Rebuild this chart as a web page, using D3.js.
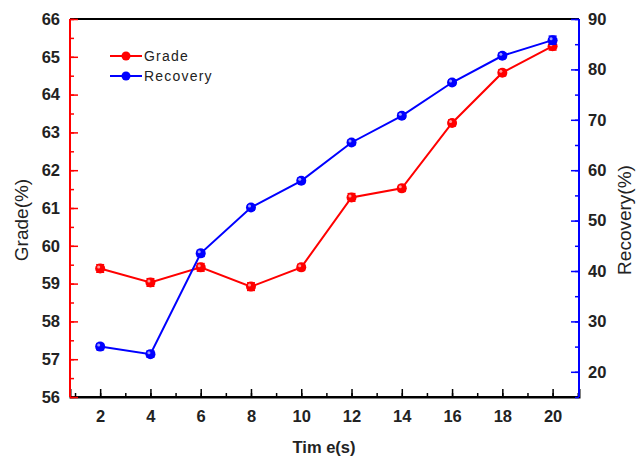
<!DOCTYPE html>
<html>
<head>
<meta charset="utf-8">
<script src="https://cdn.jsdelivr.net/npm/d3@7"></script>
<style>
  body { margin: 0; background: #fff; }
  text { font-family: "Liberation Sans", Arial, sans-serif; }
</style>
</head>
<body>
<script>
// data
var times = [2, 4, 6, 8, 10, 12, 14, 16, 18, 20];
var grade = [59.40, 59.03, 59.43, 58.92, 59.43, 61.28, 61.52, 63.25, 64.58, 65.28];
var gradeErr = [0.1, 0.1, 0.1, 0.1, 0.08, 0.1, 0.08, 0.08, 0.08, 0.1];
var recovery = [25.0, 23.5, 43.5, 52.6, 57.9, 65.5, 70.8, 77.4, 82.7, 85.8];
var recoveryErr = [0.6, 0.6, 0.6, 0.5, 0.5, 0.5, 0.5, 0.5, 0.5, 0.8];
var gradeTicks = [56, 57, 58, 59, 60, 61, 62, 63, 64, 65, 66];
var recoveryTicks = [20, 30, 40, 50, 60, 70, 80, 90];
var timeTicks = [2, 4, 6, 8, 10, 12, 14, 16, 18, 20];

var width = 636, height = 459;
var margin = {top: 19, right: 57, bottom: 62, left: 70};
var x0 = margin.left, x1 = width - margin.right;
var y0 = height - margin.bottom, y1 = margin.top;

var svg = d3.select("body").append("svg")
    .attr("width", width)
    .attr("height", height);

var x = d3.scaleLinear().domain([0.8, 21.05]).range([x0, x1]);
var yL = d3.scaleLinear().domain([56, 66]).range([y0, y1]);
var yR = d3.scaleLinear().domain([15, 90]).range([y0, y1]);

// top frame line
svg.append("line")
    .attr("x1", x0).attr("x2", x1)
    .attr("y1", y1).attr("y2", y1)
    .attr("stroke", "#000").attr("stroke-width", 2);

// bottom axis (ticks inward)
var minorX = d3.range(1, 22, 1);
var bottom = svg.append("g").attr("transform", "translate(0," + y0 + ")");
bottom.call(d3.axisBottom(x).tickValues(minorX).tickSize(-4).tickFormat(""));
bottom.append("g").call(d3.axisBottom(x).tickValues(timeTicks).tickSize(-8).tickPadding(13).tickFormat(d3.format("d")));
bottom.selectAll(".domain").attr("stroke", "#000").attr("stroke-width", 2);
bottom.selectAll(".tick line").attr("stroke", "#000").attr("stroke-width", 1.5);
bottom.selectAll("text").attr("font-size", 16.5).attr("font-weight", "bold").attr("fill", "#222");
bottom.select(".domain").attr("d", "M" + x0 + ",0H" + x1);

// left axis (red, ticks inward)
var left = svg.append("g").attr("transform", "translate(" + x0 + ",0)");
left.call(d3.axisLeft(yL).tickValues(d3.range(56, 66.01, 0.5)).tickSize(-4).tickFormat(""));
left.append("g").call(d3.axisLeft(yL).tickValues(gradeTicks).tickSize(-8).tickPadding(10).tickFormat(d3.format("d")));
left.selectAll(".domain").attr("stroke", "red").attr("stroke-width", 2).attr("d", "M0," + y0 + "V" + y1);
left.selectAll(".tick line").attr("stroke", "red").attr("stroke-width", 1.5);
left.selectAll("text").attr("font-size", 16.5).attr("font-weight", "bold").attr("fill", "#222");

// right axis (blue, ticks inward)
var right = svg.append("g").attr("transform", "translate(" + x1 + ",0)");
right.call(d3.axisRight(yR).tickValues(d3.range(15, 90.01, 5)).tickSize(-4).tickFormat(""));
right.append("g").call(d3.axisRight(yR).tickValues(recoveryTicks).tickSize(-8).tickPadding(9).tickFormat(d3.format("d")));
right.selectAll(".domain").attr("stroke", "blue").attr("stroke-width", 2).attr("d", "M0," + y0 + "V" + y1);
right.selectAll(".tick line").attr("stroke", "blue").attr("stroke-width", 1.5);
right.selectAll("text").attr("font-size", 16.5).attr("font-weight", "bold").attr("fill", "#222");

// axis titles
svg.append("text")
    .attr("transform", "translate(28,220) rotate(-90)")
    .attr("text-anchor", "middle")
    .attr("font-size", 19)
    .attr("fill", "#222")
    .text("Grade(%)");

svg.append("text")
    .attr("transform", "translate(631,220) rotate(-90)")
    .attr("text-anchor", "middle")
    .attr("font-size", 19)
    .attr("fill", "#222")
    .text("Recovery(%)");

svg.append("text")
    .attr("x", 324)
    .attr("y", 453)
    .attr("text-anchor", "middle")
    .attr("font-size", 16.5)
    .attr("font-weight", "bold")
    .attr("fill", "#222")
    .text("Tim e(s)");

// series
function drawSeries(vals, errs, yScale, color) {
    var pts = times.map(function (t, i) { return {t: t, v: vals[i], e: errs[i]}; });
    var line = d3.line()
        .x(function (d) { return x(d.t); })
        .y(function (d) { return yScale(d.v); });
    svg.append("path")
        .datum(pts)
        .attr("d", line)
        .attr("fill", "none")
        .attr("stroke", color)
        .attr("stroke-width", 2);
    var g = svg.append("g").selectAll("g").data(pts).enter().append("g");
    g.append("line")
        .attr("x1", function (d) { return x(d.t); })
        .attr("x2", function (d) { return x(d.t); })
        .attr("y1", function (d) { return yScale(d.v - d.e); })
        .attr("y2", function (d) { return yScale(d.v + d.e); })
        .attr("stroke", color).attr("stroke-width", 1.5);
    [1, -1].forEach(function (s) {
        g.append("line")
            .attr("x1", function (d) { return x(d.t) - 4; })
            .attr("x2", function (d) { return x(d.t) + 4; })
            .attr("y1", function (d) { return yScale(d.v + s * d.e); })
            .attr("y2", function (d) { return yScale(d.v + s * d.e); })
            .attr("stroke", color).attr("stroke-width", 1.5);
    });
    g.append("circle")
        .attr("cx", function (d) { return x(d.t); })
        .attr("cy", function (d) { return yScale(d.v); })
        .attr("r", 5)
        .attr("fill", color);
    g.append("circle")
        .attr("cx", function (d) { return x(d.t) - 1.5; })
        .attr("cy", function (d) { return yScale(d.v) - 1.5; })
        .attr("r", 1.5)
        .attr("fill", "#fff")
        .attr("opacity", 0.6);
}

drawSeries(grade, gradeErr, yL, "red");
drawSeries(recovery, recoveryErr, yR, "blue");

// legend
var legend = [{name: "Grade", color: "red"}, {name: "Recovery", color: "blue"}];
var lg = svg.append("g").selectAll("g").data(legend).enter().append("g")
    .attr("transform", function (d, i) { return "translate(110," + (56 + i * 20) + ")"; });
lg.append("line").attr("x1", 0).attr("x2", 32).attr("stroke", function (d) { return d.color; }).attr("stroke-width", 2);
lg.append("circle").attr("cx", 16).attr("r", 4.5).attr("fill", function (d) { return d.color; });
lg.append("text")
    .attr("x", 34)
    .attr("y", 5)
    .attr("font-size", 14)
    .attr("letter-spacing", 1.2)
    .attr("fill", "#222")
    .text(function (d) { return d.name; });
</script>
</body>
</html>
